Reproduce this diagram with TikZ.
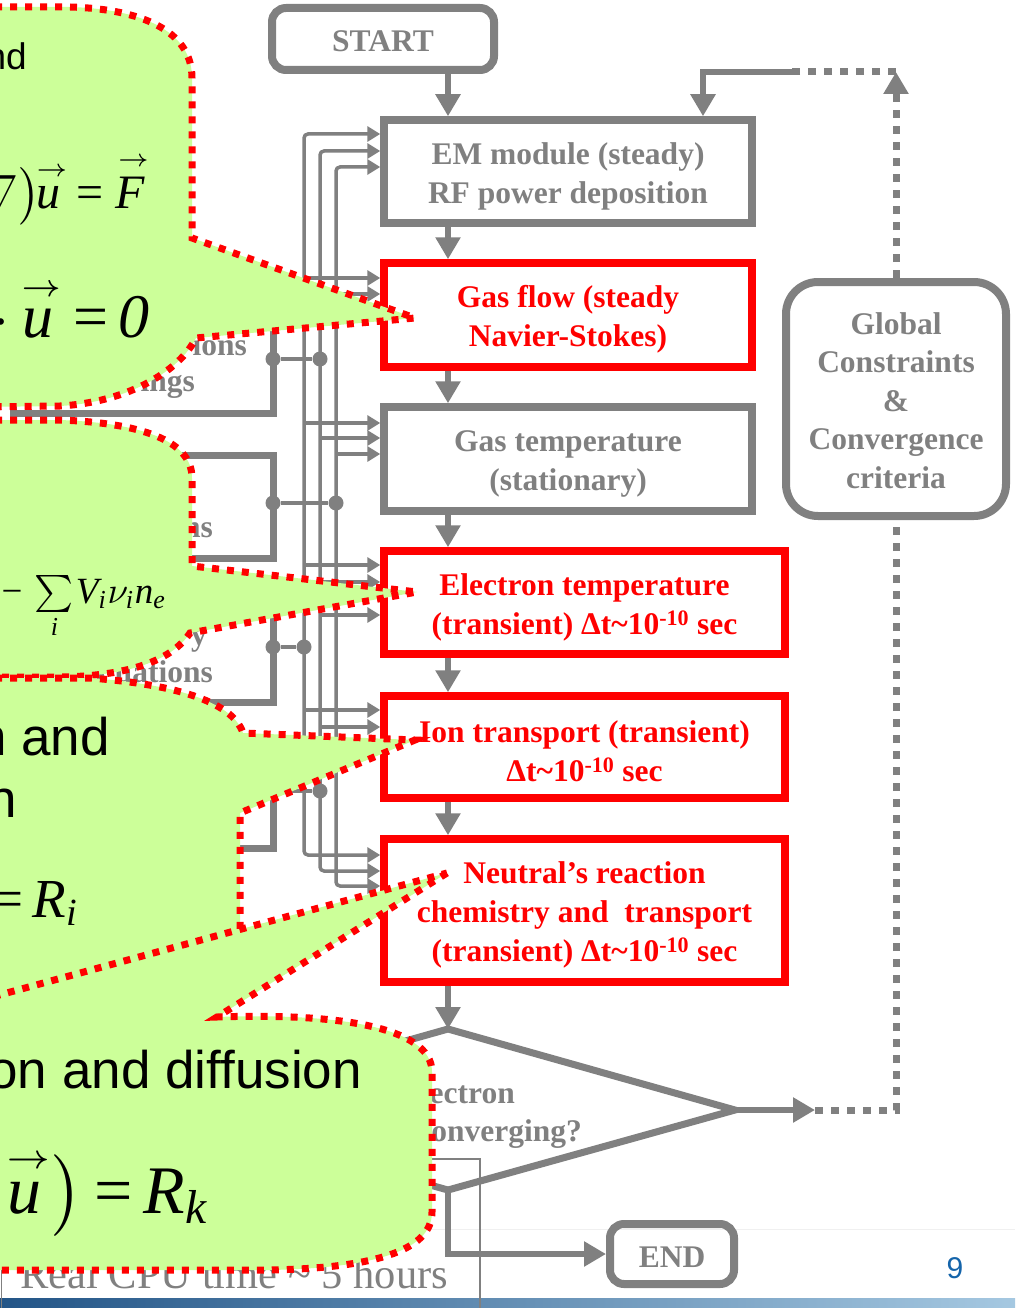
\documentclass[tikz,border=0pt]{standalone}
\usepackage{fontspec}
\usepackage{amsmath}
\usepackage{graphicx}
\setmainfont{Liberation Serif}
\newfontfamily\arialf{Liberation Sans}
\usetikzlibrary{arrows.meta}
\definecolor{cgray}{RGB}{128,128,128}
\definecolor{cred}{RGB}{255,0,0}
\definecolor{cgreen}{RGB}{204,255,153}
\definecolor{cblue}{RGB}{20,100,170}
\definecolor{bandl}{RGB}{35,85,135}
\definecolor{bandr}{RGB}{165,200,225}
\newcommand\mi[1]{\text{\itshape #1}}
\newcommand\va[1]{\overset{\scriptscriptstyle\mkern3mu\rightarrow}{#1}}
\newcommand\eqsign{\,\text{=}\,}
\newcommand\minussign{\,\text{−}\,}
\begin{document}
\begin{tikzpicture}[x=1pt,y=-1pt,
  boxfont/.style={font=\fontsize{31.5}{39}\selectfont\bfseries},
  graybox/.style={draw=cgray, line width=7.5pt, inner sep=0pt},
  redbox/.style={draw=cred, line width=7.5pt, inner sep=0pt},
  termbox/.style={graybox, rounded corners=14pt, line width=8pt},
  graytext/.style={text=cgray, boxfont, align=center, inner sep=0pt, yshift=-4.5pt},
  redtext/.style={text=cred, boxfont, align=center, inner sep=0pt, yshift=-4.5pt},
  flow/.style={draw=cgray, line width=6.5pt, -{Triangle[length=22pt,width=24pt]}},
  bus/.style={draw=cgray, line width=3.5pt, rounded corners=4pt},
  bustip/.style={-{Triangle[length=13pt,width=15pt]}},
  bracket/.style={draw=cgray, line width=7pt},
  junction/.style={draw=cgray, line width=3.5pt},
  jdot/.style={circle, fill=cgray, inner sep=0pt, minimum size=15pt},
  dotl/.style={draw=cgray, line width=7pt, dash pattern=on 8pt off 8pt},
  callout/.style={fill=cgreen, draw=cred, line width=7pt, dash pattern=on 7pt off 8pt},
  frag/.style={text=cgray, boxfont, inner sep=0pt},
  ctext/.style={font=\arialf\fontsize{53}{62}\selectfont, inner sep=0pt},
  eq/.style={inner sep=0pt},
]
\useasboundingbox (0,0) rectangle (1015,1308);
\fill[white] (0,0) rectangle (1015,1308);
\clip (0,0) rectangle (1015,1308);

% footer
\draw[gray!12, line width=1pt] (0,1229) -- (1015,1229);
\shade[left color=bandl, right color=bandr] (0,1298) rectangle (1015,1308);
\node[anchor=base west, text=cgray, font=\fontsize{42.5}{50}\selectfont, inner sep=0pt] (cpu) at (20,1288) {Real CPU time \textasciitilde\ 5 hours};
\draw[cgray, line width=1.5pt] (380,1159) -- (480,1159) -- (480,1310);
\draw[cgray, line width=1.5pt] (1.5,1262) -- (1.5,1310);

% brackets (mostly hidden)
\draw[bracket] (13,300) rectangle (273,413);
\draw[bracket] (100,455) rectangle (273,558);
\draw[bracket] (100,600) rectangle (273,702);
\draw[bracket] (100,760) rectangle (273,848);
\node[frag, anchor=base east] (f1) at (247,355) {ions};
\node[frag, anchor=base east] (f2) at (195,391) {ings};
\node[frag, anchor=base east] (f3) at (213,537) {ns};
\node[frag, anchor=base east] (f4) at (207,645) {y};
\node[frag, anchor=base east] (f5) at (213,682) {uations};

% boxes
\node[termbox, minimum width=222pt, minimum height=62pt] (start) at (383,39) {};
\node[graytext, yshift=2pt] (startt) at (start.center) {START};
\node[graybox, minimum width=368pt, minimum height=103pt] (em) at (568,171.5) {};
\node[graytext] (emt) at (em.center) {EM module (steady)\\RF power deposition};
\node[redbox, minimum width=368pt, minimum height=104pt] (gasflow) at (568,315) {};
\node[redtext] (gasflowt) at (gasflow.center) {Gas flow (steady\\Navier-Stokes)};
\node[graybox, minimum width=368pt, minimum height=104pt] (gastemp) at (568,459) {};
\node[graytext, yshift=-0.5pt] (gastempt) at (gastemp.center) {Gas temperature\\(stationary)};
\node[redbox, minimum width=401pt, minimum height=103pt] (etemp) at (584.5,602.5) {};
\node[redtext, yshift=-0.5pt] (etempt) at (etemp.center) {Electron temperature\\(transient) Δt\textasciitilde10\textsuperscript{-10} sec};
\node[redbox, minimum width=401pt, minimum height=102pt] (ion) at (584.5,747) {};
\node[redtext] (iont) at (ion.center) {Ion transport (transient)\\Δt\textasciitilde10\textsuperscript{-10} sec};
\node[redbox, minimum width=401pt, minimum height=143pt] (neutral) at (584.5,910.5) {};
\node[redtext] (neutralt) at (neutral.center) {Neutral’s reaction\\chemistry and\ \ transport\\(transient) Δt\textasciitilde10\textsuperscript{-10} sec};
\node[termbox, rounded corners=32pt, minimum width=220pt, minimum height=234pt] (global) at (896,399) {};
\node[graytext, yshift=3pt, font=\fontsize{31.5}{38.5}\selectfont\bfseries] (globalt) at (global.center) {Global\\Constraints\\\&\\Convergence\\criteria};
\node[termbox, minimum width=124pt, minimum height=60pt] (end) at (672,1254) {};
\node[graytext, yshift=1.5pt] (endt) at (end.center) {END};

% bus lines
\draw[bus, {Triangle[length=13pt,width=15pt]}-{Triangle[length=13pt,width=15pt]}] (em.west |- 0,134) -- (304,134) -- (304,855) -- (neutral.west |- 0,855);
\draw[bus, {Triangle[length=13pt,width=15pt]}-{Triangle[length=13pt,width=15pt]}] (em.west |- 0,151) -- (320,151) -- (320,871) -- (neutral.west |- 0,871);
\draw[bus, {Triangle[length=13pt,width=15pt]}-{Triangle[length=13pt,width=15pt]}] (em.west |- 0,167) -- (336,167) -- (336,886) -- (neutral.west |- 0,886);
\draw[bus, bustip] (304,278) -- (gasflow.west |- 0,278);
\draw[bus, bustip] (320,294) -- (gasflow.west |- 0,294);
\draw[bus, bustip] (304,423) -- (gastemp.west |- 0,423);
\draw[bus, bustip] (320,438) -- (gastemp.west |- 0,438);
\draw[bus, bustip] (336,454) -- (gastemp.west |- 0,454);
\draw[bus, bustip] (304,565) -- (etemp.west |- 0,565);
\draw[bus, bustip] (320,582) -- (etemp.west |- 0,582);
\draw[bus, bustip] (320,615) -- (etemp.west |- 0,615);
\draw[bus, bustip] (304,710) -- (ion.west |- 0,710);
\draw[bus, bustip] (320,727) -- (ion.west |- 0,727);

% junctions
\node[jdot] (j1a) at (273,359) {}; \node[jdot] (j1b) at (320,359) {};
\node[jdot] (j2a) at (273,503) {}; \node[jdot] (j2b) at (336,503) {};
\node[jdot] (j3a) at (273,647) {}; \node[jdot] (j3b) at (304,647) {};
\node[jdot] (j4a) at (273,791) {}; \node[jdot] (j4b) at (320,791) {};
\draw[junction] (j1a) -- (j1b);
\draw[junction] (j2a) -- (j2b);
\draw[junction] (j3a) -- (j3b);
\draw[junction] (j4a) -- (j4b);

% main flow
\coordinate (ax) at (448,0);
\coordinate (dtop) at (448,1029);
\coordinate (dright) at (735,1110);
\coordinate (dbot) at (448,1190);
\coordinate (dleft) at (161,1110);
\draw[flow] (start.south -| ax) -- (em.north -| ax);
\draw[flow] (em.south -| ax) -- (gasflow.north -| ax);
\draw[flow] (gasflow.south -| ax) -- (gastemp.north -| ax);
\draw[flow] (gastemp.south -| ax) -- (etemp.north -| ax);
\draw[flow] (etemp.south -| ax) -- (ion.north -| ax);
\draw[flow] (ion.south -| ax) -- (neutral.north -| ax);
\draw[flow] (neutral.south -| ax) -- (dtop);
\draw[draw=cgray, line width=7pt] (dtop) -- (dright) -- (dbot) -- (dleft) -- cycle;
\node[frag, anchor=base east] (q1) at (515,1103) {Electron};
\node[frag, anchor=base east] (q2) at (582,1141) {converging?};
\draw[flow] (dbot) |- (end.west);
\coordinate (rj) at (815,1110);
\draw[flow] (dright) -- (rj);
\draw[dotl] (rj) -| (global.south);
\coordinate (tj) at (896,72);
\coordinate (tm) at (792,72);
\coordinate (tl) at (703,72);
\draw[dotl, -{Triangle[length=22pt,width=24pt]}] (global.north) -- (tj);
\draw[dotl] (tj) -- (tm);
\draw[flow] (tm) -- (tl) -- (em.north -| tl);

% callouts
\path[callout] (-20,7) -- (70,7) .. controls (140,9) and (192,30) .. (192,78) -- (192,238) -- (415,318) -- (196,338) .. controls (180,370) and (130,402) .. (60,406) -- (-20,407) -- cycle;
\path[callout] (-20,420) -- (60,420) .. controls (140,423) and (192,440) .. (192,478) -- (192,566) -- (417,592) -- (190,633) .. controls (172,660) and (130,676) .. (60,677) -- (-20,677) -- cycle;
\path[callout] (-20,678) -- (90,678) .. controls (170,684) and (232,700) .. (243,733) -- (415,740) -- (240,813) -- (240,985) -- (-20,1040) -- cycle;
\path[callout] (447,873) -- (217,1017) .. controls (330,1013) and (432,1025) .. (432,1072) -- (432,1212) .. controls (432,1252) and (370,1268) .. (270,1270) -- (-30,1270) -- (-30,1003) -- cycle;

% callout texts
\node[ctext, font=\arialf\fontsize{37}{44}\selectfont, anchor=base east] (c1t) at (27,70) {nd};
\node[eq, anchor=base east] (c1e1) at (150,208) {\scalebox{4.8}{$\nabla\bigr)\mkern-4mu\va{\mi{u}}\eqsign\va{\mi{F}}$}};
\node[eq, anchor=base east] (c1e2) at (150,337) {\scalebox{6.2}{$\nabla\!\cdot\!\va{\mi{u}}\eqsign\mi{0}$}};
\node[eq, anchor=base east] (c2e) at (167,603) {\scalebox{3.7}{$\mi{T}_{\mi{e}}\minussign\textstyle\sum\limits_{\mi{i}}\mkern-2mu\mi{V}_{\mi{i}}\nu_{\mi{i}}\mi{n}_{\mi{e}}$}};
\node[ctext, anchor=base east] (c3t1) at (110,755) {n and};
\node[ctext, anchor=base east] (c3t2) at (17,817) {n};
\node[eq, anchor=base east] (c3e) at (80,917) {\scalebox{5.5}{$\text{=}\,\mi{R}_{\mi{i}}$}};
\node[ctext, anchor=base east] (c4t) at (362,1088) {on and diffusion};
\node[eq, anchor=base east] (c4e) at (210,1213) {\scalebox{6.8}{$\mi{n}_{\mi{k}}\va{\mi{u}}\bigr)\eqsign\mi{R}_{\mi{k}}$}};

\node[font=\arialf\fontsize{30}{36}\selectfont, text=cblue, inner sep=0pt] (pgnum) at (955,1268) {9};
\end{tikzpicture}
\end{document}
